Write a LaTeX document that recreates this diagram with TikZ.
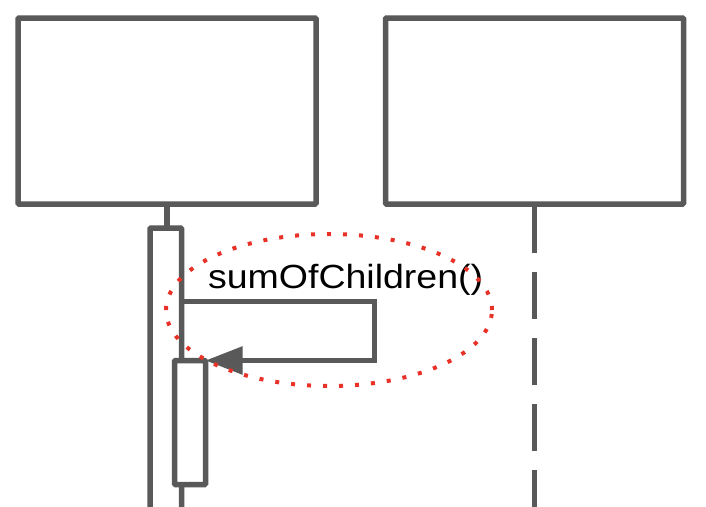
\documentclass[tikz,border=0pt]{standalone}
\usepackage{fontspec}
\setmainfont{Liberation Sans}
\usetikzlibrary{arrows.meta,shapes.geometric}
\definecolor{umlgray}{RGB}{89,89,89}
\definecolor{hlred}{RGB}{232,50,40}
\tikzset{
  objbox/.style={draw=umlgray, line width=5.5pt, rectangle, rounded corners=1pt, minimum width=298pt, minimum height=186pt, inner sep=0pt, outer sep=0pt, fill=white},
  actbar/.style={draw=umlgray, line width=5.5pt, rectangle, rounded corners=1pt, inner sep=0pt, outer sep=0pt, fill=white},
  lifeline/.style={draw=umlgray, line width=5.5pt},
  msg/.style={draw=umlgray, line width=5.5pt, line join=miter, -{Triangle[length=37pt,width=27pt]}},
  hilite/.style={draw=hlred, line width=4pt, dash pattern=on 4pt off 12pt, ellipse, inner sep=0pt, minimum width=326pt, minimum height=152pt},
  msglabel/.style={inner sep=0pt, outer sep=0pt, font=\fontsize{33.5}{40}\selectfont, text=black}
}
\begin{document}
\begin{tikzpicture}[x=1pt,y=-1pt]
\useasboundingbox (0,0) rectangle (706,506);
\clip (0,0) rectangle (706,506);
\fill[white] (0,0) rectangle (706,506);
% objects
\node[objbox] (box1) at (167,111) {};
\node[objbox] (box2) at (534.5,111) {};
% activation bars
\node[actbar, minimum width=31.5pt, minimum height=300pt] (bar1) at (165.75,378) {};
\draw[lifeline] (box1.south) -- (box1.south |- bar1.north);
\coordinate (end2) at (534.5,520);
\draw[lifeline, dash pattern=on 47pt off 19pt, dash phase=64pt] (box2.south) -- (end2);
% message
\coordinate (turnA) at (374.5,301.5);
\coordinate (turnB) at (374.5,360.5);
\node[actbar, minimum width=31pt, minimum height=124pt] (bar2) at (190,422.5) {};
\draw[msg] (bar1.east |- turnA) -- (turnA) -- (turnB) -- (bar2.north east);
\node[msglabel, anchor=base west] (lbl) at (208,288) {\scalebox{1.12}[1]{sumOfChildren()}};
% highlight
\node[hilite] (hl) at (329,310) {};
\end{tikzpicture}
\end{document}
